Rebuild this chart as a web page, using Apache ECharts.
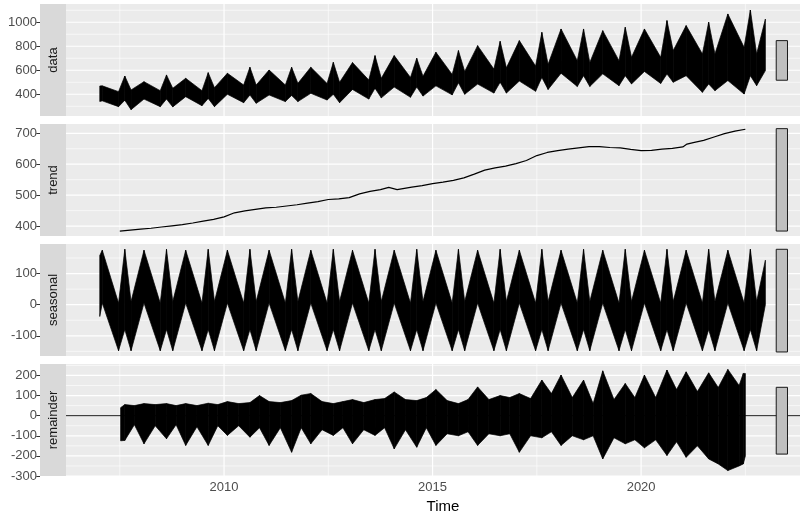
<!DOCTYPE html>
<html><head><meta charset="utf-8">
<script src="https://cdn.jsdelivr.net/npm/echarts@6/dist/echarts.min.js"></script>
<style>html,body{margin:0;padding:0;background:#fff}#c{width:800px;height:516px}</style>
</head><body><div id="c"></div><script>
// ---------- data ----------
const panelNames = ['data', 'trend', 'seasonal', 'remainder'];
const xMajor = [2010, 2015, 2020];
const xMinor = [2007.5, 2012.5, 2017.5, 2022.5];
const yMajor = [[400, 600, 800, 1000], [400, 500, 600, 700], [-100, 0, 100], [-300, -200, -100, 0, 100, 200]];
const yMinor = [[300, 500, 700, 900, 1100], [450, 550, 650], [-150, -50, 50, 150], [-250, -150, -50, 50, 150, 250]];
const yMin = [219, 368, -165, -300];
const yMax = [1152, 730, 195, 257];
const XMIN = 2006.21, XMAX = 2023.81;

// envelope sample times for the data and seasonal panels
const bandTime = [2007.02, 2007.08, 2007.47, 2007.62, 2007.77,
  2008.08, 2008.47, 2008.62, 2008.77, 2009.08, 2009.47, 2009.62, 2009.77,
  2010.08, 2010.47, 2010.62, 2010.77, 2011.08, 2011.47, 2011.62, 2011.77,
  2012.08, 2012.47, 2012.62, 2012.77, 2013.08, 2013.47, 2013.62, 2013.77,
  2014.08, 2014.47, 2014.62, 2014.77, 2015.08, 2015.47, 2015.62, 2015.77,
  2016.08, 2016.47, 2016.62, 2016.77, 2017.08, 2017.47, 2017.62, 2017.77,
  2018.08, 2018.47, 2018.62, 2018.77, 2019.08, 2019.47, 2019.62, 2019.77,
  2020.08, 2020.47, 2020.62, 2020.77, 2021.08, 2021.47, 2021.62, 2021.77,
  2022.08, 2022.47, 2022.62, 2022.77, 2022.98];
const dataLow = [340, 345, 297, 350, 272,
  360, 297, 360, 295, 380, 305, 365, 297,
  400, 330, 394, 325, 394, 339, 390, 339,
  408, 352, 400, 330, 440, 360, 450, 370,
  460, 375, 460, 385, 470, 395, 495, 400,
  485, 410, 500, 410, 510, 425, 540, 440,
  575, 465, 555, 465, 570, 472, 555, 486,
  590, 490, 569, 500, 555, 416, 486, 430,
  514, 402, 555, 472, 597];
const dataHigh = [469, 470, 422, 552, 436,
  505, 430, 561, 450, 533, 430, 580, 455,
  575, 477, 625, 477, 602, 477, 625, 491,
  625, 490, 666, 500, 664, 519, 722, 533,
  722, 540, 700, 550, 750, 565, 764, 590,
  805, 610, 841, 620, 847, 635, 916, 650,
  944, 680, 944, 665, 930, 680, 958, 708,
  944, 708, 1014, 764, 972, 736, 1000, 736,
  1069, 791, 1102, 736, 1027];
const seasonalLow = [-38, 5, -148, -80, -148,
  5, -148, -80, -148, 5, -148, -80, -148,
  5, -148, -80, -148, 5, -148, -80, -148,
  5, -148, -80, -148, 5, -148, -80, -148,
  5, -148, -80, -148, 5, -148, -80, -148,
  5, -148, -80, -148, 5, -148, -80, -148,
  5, -148, -80, -148, 5, -148, -80, -148,
  5, -148, -80, -148, 5, -148, -80, -148,
  5, -148, -80, -148, 0];
const seasonalHigh = [158, 175, 5, 178, 10,
  175, 5, 178, 10, 175, 5, 178, 10,
  175, 5, 178, 10, 175, 5, 178, 10,
  175, 5, 178, 10, 175, 5, 178, 10,
  175, 5, 178, 10, 175, 5, 178, 10,
  175, 5, 178, 10, 175, 5, 178, 10,
  175, 5, 178, 10, 175, 5, 178, 10,
  175, 5, 178, 10, 175, 5, 178, 10,
  175, 5, 178, 10, 143];

const trendTime = [2007.5, 2007.75, 2008.0, 2008.25, 2008.5, 2008.75, 2009.0, 2009.25, 2009.5, 2009.75,
  2010.0, 2010.25, 2010.5, 2010.75, 2011.0, 2011.25, 2011.5, 2011.75, 2012.0, 2012.25, 2012.5, 2012.75,
  2013.0, 2013.25, 2013.5, 2013.75, 2013.95, 2014.15, 2014.5, 2014.75, 2015.0, 2015.25, 2015.5, 2015.75,
  2016.0, 2016.25, 2016.5, 2016.75, 2017.0, 2017.25, 2017.5, 2017.75, 2018.0, 2018.25, 2018.5, 2018.75,
  2019.0, 2019.25, 2019.5, 2019.75, 2020.0, 2020.25, 2020.5, 2020.75, 2021.0, 2021.1, 2021.25, 2021.5,
  2021.75, 2022.0, 2022.25, 2022.5];
const trendValue = [384, 387, 390, 393, 397, 401, 405, 410, 416, 422,
  430, 443, 449, 454, 459, 461, 465, 469, 474, 479, 486, 488,
  492, 504, 512, 518, 525, 518, 526, 531, 537, 542, 548, 556,
  568, 581, 588, 594, 602, 612, 628, 638, 644, 649, 653, 657,
  657, 654, 653, 648, 644, 645, 649, 651, 656, 665, 670, 677,
  688, 699, 707, 713];

const remainderTime = [2007.52, 2007.62, 2007.85,
  2008.08, 2008.35, 2008.62, 2008.85, 2009.08, 2009.35, 2009.62, 2009.85,
  2010.08, 2010.35, 2010.62, 2010.85, 2011.08, 2011.35, 2011.62, 2011.85,
  2012.08, 2012.35, 2012.62, 2012.85, 2013.08, 2013.35, 2013.62, 2013.85,
  2014.08, 2014.35, 2014.62, 2014.85, 2015.08, 2015.35, 2015.62, 2015.85,
  2016.08, 2016.35, 2016.62, 2016.85, 2017.08, 2017.35, 2017.62, 2017.85,
  2018.08, 2018.35, 2018.62, 2018.85, 2019.08, 2019.35, 2019.62, 2019.85,
  2020.08, 2020.35, 2020.62, 2020.85, 2021.08, 2021.35, 2021.62, 2021.85,
  2022.08, 2022.35, 2022.45, 2022.50];
const remainderLow = [-125, -123, -45,
  -140, -50, -115, -45, -148, -55, -148, -50,
  -98, -50, -107, -60, -148, -60, -182, -60,
  -140, -70, -98, -60, -140, -70, -98, -60,
  -165, -70, -157, -60, -148, -90, -100, -80,
  -148, -90, -100, -90, -182, -100, -110, -80,
  -148, -100, -120, -100, -215, -110, -140, -120,
  -160, -120, -198, -130, -207, -150, -215, -240,
  -273, -250, -240, -200];
const remainderHigh = [40, 55, 50,
  60, 55, 60, 50, 60, 50, 62, 55,
  70, 60, 65, 100, 70, 65, 75, 102,
  110, 70, 60, 70, 80, 65, 80, 85,
  118, 80, 75, 90, 130, 75, 60, 80,
  143, 80, 100, 90, 110, 85, 177, 110,
  202, 90, 177, 60, 223, 80, 160, 90,
  202, 90, 227, 130, 218, 120, 213, 140,
  230, 150, 210, 210];

// grey range bars on the right of each panel
const rangeBarX = [2023.24, 2023.51];
const rangeBarLow = [517, 384, -152, -191];
const rangeBarHigh = [847, 715, 178, 141];

// ---------- layout ----------
const FONT = '"Liberation Sans", Arial, sans-serif';
const panelTop = [4, 124, 244, 364];
const panelH = 112;

function hLineRender(params, api) {
  const cs = params.coordSys;
  const y = api.coord([XMIN, api.value(1)])[1];
  return { type: 'line', silent: true,
    shape: { x1: cs.x, y1: y, x2: cs.x + cs.width, y2: y },
    style: { stroke: '#FFFFFF', lineWidth: api.value(2) ? 1.2 : 0.6 } };
}
function vLineRender(params, api) {
  const cs = params.coordSys;
  const x = api.coord([api.value(0), api.value(1)])[0];
  return { type: 'line', silent: true,
    shape: { x1: x, y1: cs.y, x2: x, y2: cs.y + cs.height },
    style: { stroke: '#FFFFFF', lineWidth: api.value(2) ? 1.2 : 0.6 } };
}
function bandRender(times, lows, highs) {
  return function (params, api) {
    const i = params.dataIndex;
    if (i >= times.length - 1) return null;
    const a = api.coord([times[i], highs[i]]);
    const b = api.coord([times[i + 1], highs[i + 1]]);
    const c = api.coord([times[i + 1], lows[i + 1]]);
    const d = api.coord([times[i], lows[i]]);
    return { type: 'polygon', shape: { points: [a, b, c, d] },
      style: { fill: '#000000', stroke: '#000000', lineWidth: 0.7 } };
  };
}
function zeroLineRender(params, api) {
  const cs = params.coordSys;
  const y = api.coord([XMIN, api.value(1)])[1];
  return { type: 'line', shape: { x1: cs.x, y1: y, x2: cs.x + cs.width, y2: y },
    style: { stroke: '#1A1A1A', lineWidth: 1 } };
}
function rangeBarRender(params, api) {
  const p1 = api.coord([api.value(0), api.value(3)]);
  const p2 = api.coord([api.value(1), api.value(2)]);
  return { type: 'rect', shape: { x: p1[0], y: p1[1], width: p2[0] - p1[0], height: p2[1] - p1[1] },
    style: { fill: '#BFBFBF', stroke: '#1A1A1A', lineWidth: 1 } };
}

const grids = [], xAxes = [], yAxes = [], series = [], graphics = [];
for (let g = 0; g < 4; g++) {
  grids.push({ left: 66, right: 0, top: panelTop[g], height: panelH, show: true,
    backgroundColor: '#EBEBEB', borderWidth: 0 });
  const bottom = g === 3;
  xAxes.push({ type: 'value', gridIndex: g, min: XMIN, max: XMAX,
    axisLine: { show: false }, splitLine: { show: false },
    axisTick: { show: bottom, customValues: xMajor, length: 3.7, lineStyle: { color: '#333333', width: 1 } },
    axisLabel: { show: bottom, customValues: xMajor, color: '#4D4D4D', fontSize: 13, fontFamily: FONT, margin: 5,
      formatter: v => String(Math.round(v)) } });
  yAxes.push({ type: 'value', gridIndex: g, min: yMin[g], max: yMax[g], offset: 26,
    axisLine: { show: false }, splitLine: { show: false },
    axisTick: { show: true, customValues: yMajor[g], length: 3.7, lineStyle: { color: '#333333', width: 1 } },
    axisLabel: { customValues: yMajor[g], color: '#4D4D4D', fontSize: 13, fontFamily: FONT, margin: 3,
      formatter: v => String(Math.round(v)) } });

  const hData = yMajor[g].map(v => [XMIN, v, 1]).concat(yMinor[g].map(v => [XMIN, v, 0]));
  const vData = xMajor.map(v => [v, yMin[g], 1]).concat(xMinor.map(v => [v, yMin[g], 0]));
  series.push({ type: 'custom', xAxisIndex: g, yAxisIndex: g, z: 1, silent: true,
    renderItem: hLineRender, data: hData, encode: { x: 0, y: 1 } });
  series.push({ type: 'custom', xAxisIndex: g, yAxisIndex: g, z: 1, silent: true,
    renderItem: vLineRender, data: vData, encode: { x: 0, y: 1 } });
  series.push({ type: 'custom', xAxisIndex: g, yAxisIndex: g, z: 4, silent: true,
    renderItem: rangeBarRender, data: [[rangeBarX[0], rangeBarX[1], rangeBarLow[g], rangeBarHigh[g]]],
    encode: { x: [0, 1], y: [2, 3] } });

  graphics.push({ type: 'rect', shape: { x: 40, y: panelTop[g], width: 26, height: panelH },
    style: { fill: '#D9D9D9' }, silent: true });
  graphics.push({ type: 'text', x: 53, y: panelTop[g] + panelH / 2, rotation: Math.PI / 2,
    style: { text: panelNames[g], align: 'center', verticalAlign: 'middle', fill: '#1A1A1A',
      font: '13px ' + FONT }, silent: true });
}

series.push({ type: 'custom', xAxisIndex: 0, yAxisIndex: 0, z: 3,
  renderItem: bandRender(bandTime, dataLow, dataHigh),
  data: bandTime.map((t, i) => [t, dataLow[i], dataHigh[i]]), encode: { x: 0, y: [1, 2] } });
series.push({ type: 'line', xAxisIndex: 1, yAxisIndex: 1, z: 3, showSymbol: false, symbol: 'none',
  lineStyle: { color: '#000000', width: 1.2 },
  data: trendTime.map((t, i) => [t, trendValue[i]]) });
series.push({ type: 'custom', xAxisIndex: 2, yAxisIndex: 2, z: 3,
  renderItem: bandRender(bandTime, seasonalLow, seasonalHigh),
  data: bandTime.map((t, i) => [t, seasonalLow[i], seasonalHigh[i]]), encode: { x: 0, y: [1, 2] } });
series.push({ type: 'custom', xAxisIndex: 3, yAxisIndex: 3, z: 2,
  renderItem: zeroLineRender, data: [[XMIN, 0]], encode: { x: 0, y: 1 } });
series.push({ type: 'custom', xAxisIndex: 3, yAxisIndex: 3, z: 3,
  renderItem: bandRender(remainderTime, remainderLow, remainderHigh),
  data: remainderTime.map((t, i) => [t, remainderLow[i], remainderHigh[i]]), encode: { x: 0, y: [1, 2] } });

graphics.push({ type: 'text', x: 443, y: 507,
  style: { text: 'Time', align: 'center', verticalAlign: 'middle', fill: '#000000', font: '15px ' + FONT } });

const chart = echarts.init(document.getElementById('c'), null, { renderer: 'canvas' });
chart.setOption({
  animation: false,
  backgroundColor: '#FFFFFF',
  grid: grids, xAxis: xAxes, yAxis: yAxes, series: series, graphic: graphics
});
</script></body></html>
